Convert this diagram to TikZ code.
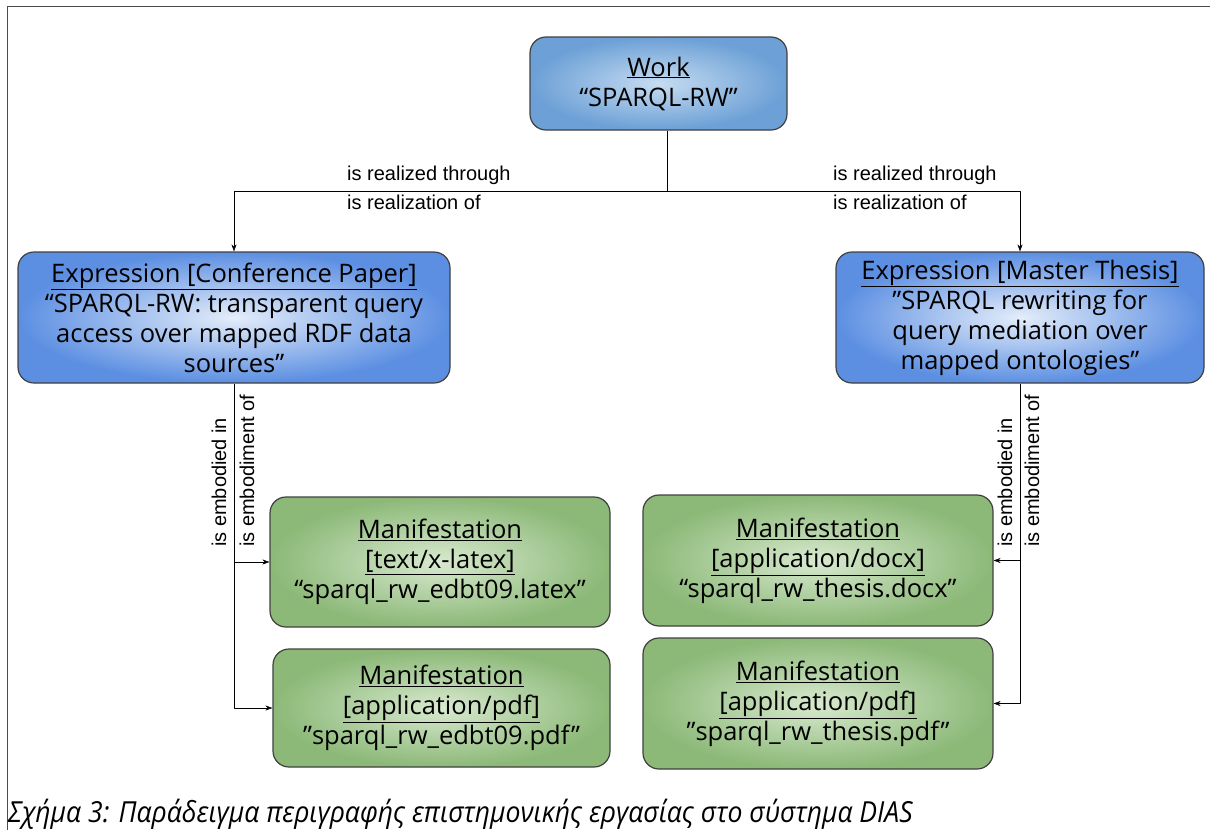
\documentclass[tikz,border=0pt]{standalone}
\usepackage{fontspec}
\setmainfont{Open Sans}
\newfontfamily\relfont{Liberation Sans}
\newfontfamily\capfont[FakeStretch=0.915]{Open Sans}
\usetikzlibrary{arrows.meta}
\definecolor{workin}{RGB}{198,220,241}
\definecolor{workout}{RGB}{108,160,214}
\definecolor{expin}{RGB}{228,237,250}
\definecolor{expout}{RGB}{92,143,226}
\definecolor{manin}{RGB}{216,233,207}
\definecolor{manout}{RGB}{140,185,120}
\begin{document}
\begin{tikzpicture}[x=1pt, y=-1pt, line join=round, >={Stealth[length=7pt,width=5pt]},
  box/.style={draw=black!75, line width=1.2pt, rounded corners=16pt, align=center,
    inner sep=0pt, font=\fontsize{25.5}{30}\selectfont},
  work/.style={box, inner color=workin, outer color=workout},
  expr/.style={box, inner color=expin, outer color=expout},
  manif/.style={box, inner color=manin, outer color=manout},
  rel/.style={inner sep=0pt, font=\relfont\fontsize{20}{24}\selectfont}]
\useasboundingbox (0,0) rectangle (1210,830);
% frame
\draw[black!70, line width=1pt] (1210,6) -- (7,6) -- (7,830);
% work and expressions
\node[work, minimum width=257pt, minimum height=93pt] (work) at (658.5,83.5)
  {\underline{Work}\\“SPARQL-RW”};
\node[expr, minimum width=432pt, minimum height=131pt] (expl) at (234,317.5)
  {\underline{Expression [Conference Paper]}\\“SPARQL-RW: transparent query\\access over mapped RDF data\\sources”};
\node[expr, minimum width=368pt, minimum height=131pt] (expr) at (1020,317.5)
  {\underline{Expression [Master Thesis]}\\”SPARQL rewriting for\\query mediation over\\mapped ontologies”};
% manifestations
\node[manif, minimum width=340pt, minimum height=130pt] (manl1) at (440,562)
  {\underline{Manifestation}\\\underline{[text/x-latex]}\\“sparql\_rw\_edbt09.latex”};
\node[manif, minimum width=337pt, minimum height=118pt] (manl2) at (441.5,708)
  {\underline{Manifestation}\\\underline{[application/pdf]}\\”sparql\_rw\_edbt09.pdf”};
\node[manif, minimum width=350pt, minimum height=131pt] (manr1) at (818,560.5)
  {\underline{Manifestation}\\\underline{[application/docx]}\\“sparql\_rw\_thesis.docx”};
\node[manif, minimum width=350pt, minimum height=131pt] (manr2) at (818,703.5)
  {\underline{Manifestation}\\\underline{[application/pdf]}\\”sparql\_rw\_thesis.pdf”};
% connectors
\coordinate (split) at (667,191);
\draw ([xshift=8.5pt]work.south) -- (split);
\draw[->] (split) -| (expl.north);
\draw[->] (split) -| (expr.north);
\draw[->] (expl.south) |- (manl1.west);
\draw[->] (expl.south) |- (manl2.west);
\draw[->] (expr.south) |- (manr1.east);
\draw[->] (expr.south) |- (manr2.east);
% relation labels
\node[rel, anchor=west] (rtl) at (347,175) {is realized through};
\node[rel, anchor=west] (rol) at (347,202) {is realization of};
\node[rel, anchor=west] (rtr) at (833,175) {is realized through};
\node[rel, anchor=west] (ror) at (833,202) {is realization of};
\foreach \x/\n in {219/eil, 1005/eir} \node[rel, rotate=90, anchor=west] (\n) at (\x,547) {is embodied in};
\foreach \x/\n in {247/eol, 1032/eor} \node[rel, rotate=90, anchor=west] (\n) at (\x,547) {is embodiment of};
% caption
\node[anchor=base west, inner sep=0pt, font=\capfont\itshape\fontsize{29}{32}\selectfont] (cap) at (8,822)
  {Σχήμα 3: Παράδειγμα περιγραφής επιστημονικής εργασίας στο σύστημα DIAS};
\end{tikzpicture}
\end{document}
